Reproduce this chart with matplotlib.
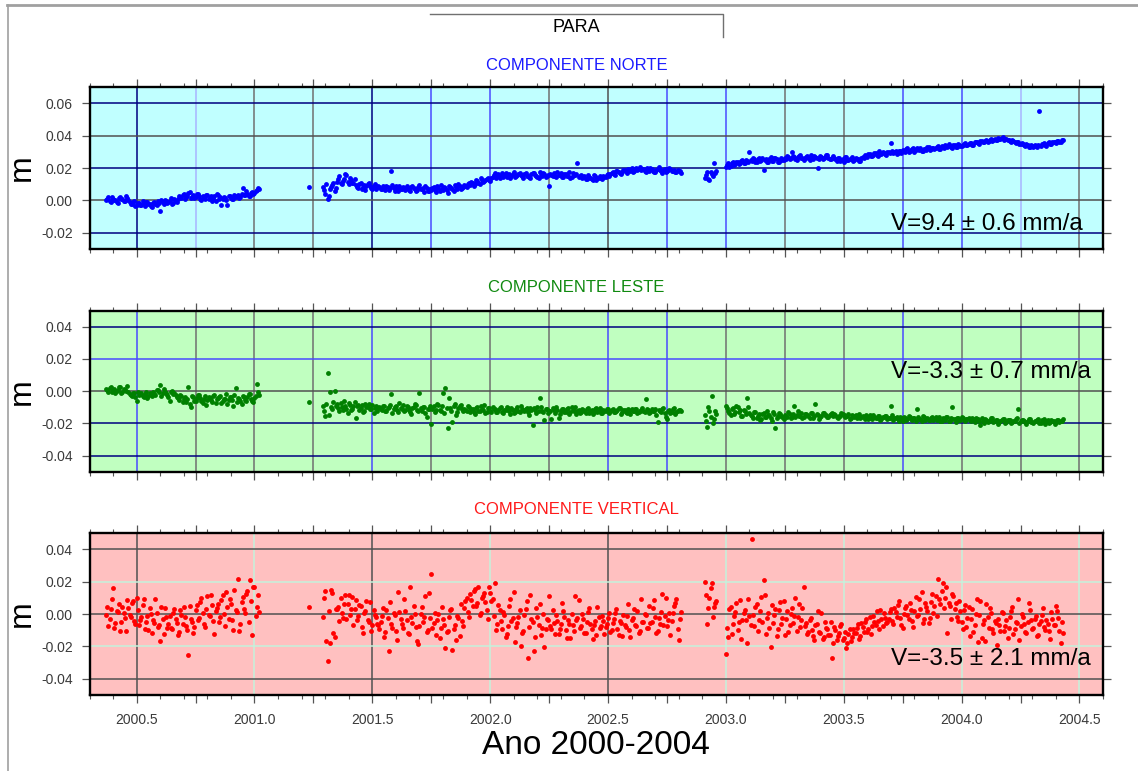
import numpy as np
import matplotlib
matplotlib.use('Agg')
import matplotlib.pyplot as plt
from matplotlib.ticker import MultipleLocator, FuncFormatter
from matplotlib.lines import Line2D

plt.rcParams['font.family'] = ['Liberation Sans', 'DejaVu Sans']
plt.rcParams['axes.unicode_minus'] = False

# ---------------- DATA (epochs in decimal years, displacements in mm) ----------------
t_a = [2000.37, 2000.38, 2000.39, 2000.40, 2000.41, 2000.42, 2000.43, 2000.44, 2000.45, 2000.46,
       2000.47, 2000.48, 2000.49, 2000.50, 2000.51, 2000.52, 2000.53, 2000.54, 2000.55, 2000.56,
       2000.57, 2000.58, 2000.59, 2000.60, 2000.61, 2000.62, 2000.63, 2000.64, 2000.65, 2000.66,
       2000.67, 2000.68, 2000.69, 2000.70, 2000.71, 2000.72, 2000.73, 2000.74, 2000.75, 2000.76,
       2000.77, 2000.78, 2000.79, 2000.80, 2000.81, 2000.82, 2000.83, 2000.84, 2000.85, 2000.86,
       2000.87, 2000.88, 2000.89, 2000.90, 2000.91, 2000.92, 2000.93, 2000.94, 2000.95, 2000.96,
       2000.97, 2000.98, 2000.99, 2001.00, 2001.01, 2001.02]
t_single = [2001.23]
t_b = [2001.29, 2001.30, 2001.31, 2001.32, 2001.33, 2001.34, 2001.35, 2001.36, 2001.37, 2001.38,
       2001.39, 2001.40, 2001.41, 2001.42, 2001.43, 2001.44, 2001.45, 2001.46, 2001.47, 2001.48,
       2001.49, 2001.50, 2001.51, 2001.52, 2001.53, 2001.54, 2001.55, 2001.56, 2001.57, 2001.58,
       2001.59, 2001.60, 2001.61, 2001.62, 2001.63, 2001.64, 2001.65, 2001.66, 2001.67, 2001.68,
       2001.69, 2001.70, 2001.71, 2001.72, 2001.73, 2001.74, 2001.75, 2001.76, 2001.77, 2001.78,
       2001.79, 2001.80, 2001.81, 2001.82, 2001.83, 2001.84, 2001.85, 2001.86, 2001.87, 2001.88,
       2001.89, 2001.90, 2001.91, 2001.92, 2001.93, 2001.94, 2001.95, 2001.96, 2001.97, 2001.98,
       2001.99, 2002.00, 2002.01, 2002.02, 2002.03, 2002.04, 2002.05, 2002.06, 2002.07, 2002.08,
       2002.09, 2002.10, 2002.11, 2002.12, 2002.13, 2002.14, 2002.15, 2002.16, 2002.17, 2002.18,
       2002.19, 2002.20, 2002.21, 2002.22, 2002.23, 2002.24, 2002.25, 2002.26, 2002.27, 2002.28,
       2002.29, 2002.30, 2002.31, 2002.32, 2002.33, 2002.34, 2002.35, 2002.36, 2002.37, 2002.38,
       2002.39, 2002.40, 2002.41, 2002.42, 2002.43, 2002.44, 2002.45, 2002.46, 2002.47, 2002.48,
       2002.49, 2002.50, 2002.51, 2002.52, 2002.53, 2002.54, 2002.55, 2002.56, 2002.57, 2002.58,
       2002.59, 2002.60, 2002.61, 2002.62, 2002.63, 2002.64, 2002.65, 2002.66, 2002.67, 2002.68,
       2002.69, 2002.70, 2002.71, 2002.72, 2002.73, 2002.74, 2002.75, 2002.76, 2002.77, 2002.78,
       2002.79, 2002.80, 2002.81]
t_c = [2002.91, 2002.92, 2002.93, 2002.94, 2002.95, 2002.96]
t_d = [2003.00, 2003.01, 2003.02, 2003.03, 2003.04, 2003.05, 2003.06, 2003.07, 2003.08, 2003.09,
       2003.10, 2003.11, 2003.12, 2003.13, 2003.14, 2003.15, 2003.16, 2003.17, 2003.18, 2003.19,
       2003.20, 2003.21, 2003.22, 2003.23, 2003.24, 2003.25, 2003.26, 2003.27, 2003.28, 2003.29,
       2003.30, 2003.31, 2003.32, 2003.33, 2003.34, 2003.35, 2003.36, 2003.37, 2003.38, 2003.39,
       2003.40, 2003.41, 2003.42, 2003.43, 2003.44, 2003.45, 2003.46, 2003.47, 2003.48, 2003.49,
       2003.50, 2003.51, 2003.52, 2003.53, 2003.54, 2003.55, 2003.56, 2003.57, 2003.58, 2003.59,
       2003.60, 2003.61, 2003.62, 2003.63, 2003.64, 2003.65, 2003.66, 2003.67, 2003.68, 2003.69,
       2003.70, 2003.71, 2003.72, 2003.73, 2003.74, 2003.75, 2003.76, 2003.77, 2003.78, 2003.79,
       2003.80, 2003.81, 2003.82, 2003.83, 2003.84, 2003.85, 2003.86, 2003.87, 2003.88, 2003.89,
       2003.90, 2003.91, 2003.92, 2003.93, 2003.94, 2003.95, 2003.96, 2003.97, 2003.98, 2003.99,
       2004.00, 2004.01, 2004.02, 2004.03, 2004.04, 2004.05, 2004.06, 2004.07, 2004.08, 2004.09,
       2004.10, 2004.11, 2004.12, 2004.13, 2004.14, 2004.15, 2004.16, 2004.17, 2004.18, 2004.19,
       2004.20, 2004.21, 2004.22, 2004.23, 2004.24, 2004.25, 2004.26, 2004.27, 2004.28, 2004.29,
       2004.30, 2004.31, 2004.32, 2004.33, 2004.34, 2004.35, 2004.36, 2004.37, 2004.38, 2004.39,
       2004.40, 2004.41, 2004.42, 2004.43]
# intermediate epochs (between the above)
t_a2 = [2000.375, 2000.385, 2000.395, 2000.405, 2000.415, 2000.425, 2000.435, 2000.445, 2000.455, 2000.465,
        2000.475, 2000.485, 2000.495, 2000.505, 2000.515, 2000.525, 2000.535, 2000.545, 2000.555, 2000.565,
        2000.575, 2000.585, 2000.595, 2000.605, 2000.615, 2000.625, 2000.635, 2000.645, 2000.655, 2000.665,
        2000.675, 2000.685, 2000.695, 2000.705, 2000.715, 2000.725, 2000.735, 2000.745, 2000.755, 2000.765,
        2000.775, 2000.785, 2000.795, 2000.805, 2000.815, 2000.825, 2000.835, 2000.845, 2000.855, 2000.865,
        2000.875, 2000.885, 2000.895, 2000.905, 2000.915, 2000.925, 2000.935, 2000.945, 2000.955, 2000.965,
        2000.975, 2000.985, 2000.995, 2001.005, 2001.015]
t_b2 = [2001.295, 2001.305, 2001.315, 2001.325, 2001.335, 2001.345, 2001.355, 2001.365, 2001.375, 2001.385,
        2001.395, 2001.405, 2001.415, 2001.425, 2001.435, 2001.445, 2001.455, 2001.465, 2001.475, 2001.485,
        2001.495, 2001.505, 2001.515, 2001.525, 2001.535, 2001.545, 2001.555, 2001.565, 2001.575, 2001.585,
        2001.595, 2001.605, 2001.615, 2001.625, 2001.635, 2001.645, 2001.655, 2001.665, 2001.675, 2001.685,
        2001.695, 2001.705, 2001.715, 2001.725, 2001.735, 2001.745, 2001.755, 2001.765, 2001.775, 2001.785,
        2001.795, 2001.805, 2001.815, 2001.825, 2001.835, 2001.845, 2001.855, 2001.865, 2001.875, 2001.885,
        2001.895, 2001.905, 2001.915, 2001.925, 2001.935, 2001.945, 2001.955, 2001.965, 2001.975, 2001.985,
        2001.995, 2002.005, 2002.015, 2002.025, 2002.035, 2002.045, 2002.055, 2002.065, 2002.075, 2002.085,
        2002.095, 2002.105, 2002.115, 2002.125, 2002.135, 2002.145, 2002.155, 2002.165, 2002.175, 2002.185,
        2002.195, 2002.205, 2002.215, 2002.225, 2002.235, 2002.245, 2002.255, 2002.265, 2002.275, 2002.285,
        2002.295, 2002.305, 2002.315, 2002.325, 2002.335, 2002.345, 2002.355, 2002.365, 2002.375, 2002.385,
        2002.395, 2002.405, 2002.415, 2002.425, 2002.435, 2002.445, 2002.455, 2002.465, 2002.475, 2002.485,
        2002.495, 2002.505, 2002.515, 2002.525, 2002.535, 2002.545, 2002.555, 2002.565, 2002.575, 2002.585,
        2002.595, 2002.605, 2002.615, 2002.625, 2002.635, 2002.645, 2002.655, 2002.665, 2002.675, 2002.685,
        2002.695, 2002.705, 2002.715, 2002.725, 2002.735, 2002.745, 2002.755, 2002.765, 2002.775, 2002.785,
        2002.795, 2002.805]
t_c2 = [2002.915, 2002.925, 2002.935, 2002.945, 2002.955]
t_d2 = [2003.005, 2003.015, 2003.025, 2003.035, 2003.045, 2003.055, 2003.065, 2003.075, 2003.085, 2003.095,
        2003.105, 2003.115, 2003.125, 2003.135, 2003.145, 2003.155, 2003.165, 2003.175, 2003.185, 2003.195,
        2003.205, 2003.215, 2003.225, 2003.235, 2003.245, 2003.255, 2003.265, 2003.275, 2003.285, 2003.295,
        2003.305, 2003.315, 2003.325, 2003.335, 2003.345, 2003.355, 2003.365, 2003.375, 2003.385, 2003.395,
        2003.405, 2003.415, 2003.425, 2003.435, 2003.445, 2003.455, 2003.465, 2003.475, 2003.485, 2003.495,
        2003.505, 2003.515, 2003.525, 2003.535, 2003.545, 2003.555, 2003.565, 2003.575, 2003.585, 2003.595,
        2003.605, 2003.615, 2003.625, 2003.635, 2003.645, 2003.655, 2003.665, 2003.675, 2003.685, 2003.695,
        2003.705, 2003.715, 2003.725, 2003.735, 2003.745, 2003.755, 2003.765, 2003.775, 2003.785, 2003.795,
        2003.805, 2003.815, 2003.825, 2003.835, 2003.845, 2003.855, 2003.865, 2003.875, 2003.885, 2003.895,
        2003.905, 2003.915, 2003.925, 2003.935, 2003.945, 2003.955, 2003.965, 2003.975, 2003.985, 2003.995,
        2004.005, 2004.015, 2004.025, 2004.035, 2004.045, 2004.055, 2004.065, 2004.075, 2004.085, 2004.095,
        2004.105, 2004.115, 2004.125, 2004.135, 2004.145, 2004.155, 2004.165, 2004.175, 2004.185, 2004.195,
        2004.205, 2004.215, 2004.225, 2004.235, 2004.245, 2004.255, 2004.265, 2004.275, 2004.285, 2004.295,
        2004.305, 2004.315, 2004.325, 2004.335, 2004.345, 2004.355, 2004.365, 2004.375, 2004.385, 2004.395,
        2004.405, 2004.415, 2004.425]

# North component (mm)
north_a = [0.2, 1.8, -0.9, 1.1, 0.4, -1.5, 2.0, 0.8, -0.3, 1.2,
           -1.0, -2.3, -0.6, -2.8, -1.5, -3.1, -1.9, -0.8, -2.6, -3.5, -1.7, -2.2,
           -0.4, -6.8, -1.3, 0.2, -1.8, -0.7, -2.1, 0.5, -0.9,
           2.5, 1.2, 3.8, 2.0, 4.6, 1.5, 3.1, 2.2, 4.0, 1.0,
           2.8, 0.9, 3.3, 1.7, -0.5, 2.4, 3.6, 1.1, -2.8, 2.0, 0.3, 2.9, 1.4, 0.6,
           2.2, 3.5, 1.8, 7.8, 3.0, 4.2, 2.6, 5.0, 4.4, 6.2, 6.8]
north_single = [8.0]
north_b = [8.5, 4.0, 0.5, 7.2, 9.5, 5.6,
           11.5, 14.8, 10.2, 13.0, 15.5, 9.8, 12.6, 11.0,
           9.2, 7.5, 10.6, 8.1, 6.4, 9.9, 8.6, 7.2, 10.3, 8.0,
           8.4, 6.9, 7.7, 9.1, 6.2, 18.0, 7.5, 8.8, 5.9, 7.1, 8.3, 6.6, 7.9, 5.5, 8.7, 7.0, 6.3, 9.4, 6.8, 5.2, 7.6, 6.0,
           6.5, 8.1, 5.4, 7.3, 9.6, 6.2, 7.8, 4.6, 8.5, 7.0, 9.2, 6.7, 8.9, 7.4,
           9.5, 8.2, 10.4, 11.6, 9.0, 12.3, 10.8, 13.5, 11.2, 12.8, 14.0, 12.1,
           14.6, 16.8, 15.2, 13.9, 17.1, 15.8, 14.3, 16.4, 15.0, 17.6, 14.8, 16.0,
           15.5, 13.6, 16.9, 15.3, 14.1, 16.6, 15.9, 14.5, 17.3, 15.1, 16.2, 14.9,
           9.0, 15.6, 16.9, 14.2, 15.8, 17.0, 14.6, 16.3, 15.1, 13.8, 16.7, 15.4, 22.8, 14.9,
           13.8, 15.2, 12.9, 14.6, 13.3, 15.7, 12.4, 14.1, 13.6, 15.0, 14.4, 16.2,
           16.5, 17.4, 15.8, 18.1, 16.9, 17.7, 19.0, 17.2, 18.5, 19.8, 18.0, 20.3, 19.1, 18.6,
           19.4, 17.8, 18.9, 20.1, 18.2, 17.5, 19.6, 18.7, 17.1, 19.2, 18.4, 20.0, 17.9, 18.8, 17.4, 18.1, 16.8]
north_c = [14.0, 17.5, 12.8, 16.2, 22.9, 18.0]
north_d = [20.8, 22.9, 21.5, 23.6, 22.2, 24.0, 22.8, 25.1, 23.4, 24.6,
           30.0, 24.3, 25.8, 23.7, 26.2, 24.9, 19.0, 25.5, 23.9, 26.6, 24.4, 25.9, 23.5, 25.2, 24.7,
           26.1, 27.3, 25.4, 30.0, 26.8, 25.0, 27.7, 26.3, 24.9, 27.1, 26.0, 28.0, 25.6, 26.9, 20.0,
           27.4, 25.8, 26.6, 27.9, 25.3, 26.4,
           25.9, 24.6, 26.4, 25.1, 23.9, 26.8, 24.8, 25.6, 24.2, 26.1, 25.3, 24.5,
           27.0, 28.3, 26.8, 28.9, 27.6, 29.2, 28.1, 30.4, 28.7, 29.6, 27.9, 30.1, 35.4, 29.3, 30.6, 29.0, 30.3,
           31.0, 30.2, 32.1, 30.8, 31.6, 29.9, 32.4, 31.2, 30.5, 32.0, 31.4, 33.0, 31.8, 32.6,
           32.3, 33.5, 31.9, 33.1, 34.2, 32.8, 33.7, 32.5, 34.5, 33.2, 34.0, 33.6, 35.0, 34.3,
           34.8, 35.6, 34.2, 36.0, 35.3, 36.5, 35.9, 37.0, 36.3, 37.6, 36.8, 38.2, 37.1, 37.9, 38.6, 37.4, 38.0,
           37.2, 36.0, 36.8, 35.4, 35.9, 34.6, 35.1, 33.7, 34.4, 32.8, 33.5,
           34.0, 33.1, 55.2, 34.6, 35.3, 33.9, 35.8, 34.9, 36.2, 35.5, 36.7, 36.0, 37.2]
north_a2 = [1.0, -0.6, 2.3, 0.1, -1.2, 1.6, 0.7, -0.4, 2.6, 0.3,
            -2.0, -0.9, -3.4, -1.6, -2.7, -0.5, -3.8, -1.2, -2.4, -4.3, -1.1, -2.9,
            -1.6, 0.4, -2.4, -0.2, -1.0, 1.2, -1.9, -0.6, 0.8,
            1.8, 3.4, 0.6, 2.9, 4.9, 2.1, 1.3, 3.7, 2.5, 0.4,
            1.9, 3.0, 0.5, 2.6, 1.3, -0.2, 3.2, 2.0, 0.8, 1.7, -3.2, 2.4, 1.0, 3.1,
            2.7, 1.5, 4.0, 3.2, 5.5, 2.9, 4.8, 3.6, 5.6, 7.3]
north_b2 = [6.5, 9.8, 2.5, 8.0, 11.0, 7.4,
            13.2, 10.8, 12.0, 16.2, 11.4, 13.8, 10.5, 12.9,
            8.4, 10.1, 7.0, 9.5, 8.8, 11.0, 7.8, 9.1, 6.9, 8.6,
            7.2, 8.9, 6.4, 8.0, 7.4, 9.6, 5.8, 7.9, 8.6, 6.7, 7.3, 9.0, 6.1, 8.2, 7.5, 5.7, 8.4, 6.9,
            7.7, 8.8, 5.9, 7.0,
            7.7, 6.1, 8.6, 5.8, 7.0, 8.3, 6.6, 9.1, 7.4, 6.0, 8.0, 9.8, 7.2, 8.5,
            8.8, 10.0, 9.3, 11.0, 10.1, 11.9, 9.8, 12.6, 11.8, 13.2, 12.4, 13.7,
            15.7, 14.0, 16.3, 15.1, 14.7, 16.9, 15.4, 13.8, 16.1, 14.4, 15.9, 17.2, 14.9, 16.5, 15.0,
            14.2, 16.0, 17.0, 15.3, 13.9, 15.8, 16.7, 14.6, 15.5,
            16.1, 14.8, 15.3, 17.3, 15.9, 14.4, 16.2, 15.0, 17.4, 14.7, 15.6, 16.4, 14.2, 15.8,
            14.7, 13.1, 15.5, 14.0, 12.7, 14.9, 13.5, 15.3, 12.9, 14.3, 15.8, 15.1,
            17.0, 16.1, 18.4, 17.6, 16.4, 18.8, 17.9, 19.3, 18.2, 17.3, 19.5, 18.8, 20.6, 19.4,
            18.3, 19.8, 18.0, 19.1, 17.7, 18.6, 20.4, 18.1, 19.0, 17.6, 18.9, 19.5, 18.2, 17.3, 18.5, 17.9]
north_c2 = [15.5, 13.2, 17.8, 15.0, 16.8]
north_d2 = [21.9, 20.6, 23.1, 21.8, 23.9, 22.6, 24.3, 23.0, 24.8, 23.7,
            24.8, 26.0, 23.9, 25.3, 24.6, 26.4, 25.0, 23.6, 25.7, 24.2, 26.1, 25.4, 24.0, 26.3, 25.1,
            25.7, 26.9, 26.2, 27.6, 25.5, 26.7, 28.2, 25.9, 26.5, 27.3, 25.2, 26.8, 27.5, 26.1, 25.6,
            27.0, 26.4, 28.1, 26.0, 25.8, 27.2,
            25.3, 26.2, 24.4, 25.8, 26.6, 24.9, 25.5, 26.9, 24.7, 25.7, 24.1, 26.3,
            26.5, 27.7, 28.5, 27.2, 28.0, 29.5, 27.4, 28.8, 29.9, 28.4, 30.0, 29.1, 30.6, 29.8, 28.9,
            30.8, 29.6,
            30.7, 31.8, 30.1, 31.3, 32.6, 30.9, 31.5, 32.2, 30.6, 31.9, 32.9, 31.1, 32.3, 31.7,
            33.0, 32.0, 33.8, 32.6, 33.4, 34.6, 33.0, 34.1, 33.3, 34.8, 33.9, 34.4, 35.2, 34.0,
            35.2, 34.5, 35.9, 36.4, 35.0, 36.8, 36.1, 37.3, 36.6, 37.8, 37.2, 37.5, 38.4, 37.8, 38.9,
            38.2, 37.6,
            36.5, 37.4, 35.8, 36.3, 34.9, 35.5, 34.0, 34.8, 33.3, 34.1, 32.9,
            33.4, 34.3, 33.6, 35.0, 34.2, 35.6, 35.0, 36.4, 35.8, 36.9, 36.3, 37.6]

# East component (mm)
east_a = [1.5, -0.2, 2.4, 0.3, -1.1, 1.0, 2.8, -0.6, 0.5, 3.0,
          -1.8, -3.0, -0.9, -6.0, -2.2, -1.4, -3.3, -0.5, -2.7, -1.9,
          -0.8, -2.1, 0.6, 4.0, -1.3, -0.2, -2.5, -6.2, 0.4, -1.0,
          -3.5, -5.2, -2.8, -4.6, -6.4, 2.6, -10.0, -3.9, -5.8, -2.4, -4.3, -7.1, -3.1, -5.5,
          -4.0, -6.6, -2.2, -5.1, -3.6, -7.3, -4.8, -1.9, -5.7, -3.3, -9.0, 1.8, -4.4, -6.0,
          -2.9, -5.3, -3.8, -1.5, -6.2, -4.1, 4.3, -2.6]
east_single = [-6.6]
east_b = [-9.5, -15.2, 11.3, -0.2, -11.0, 0.0,
          -8.1, -12.4, -9.6, -6.2, -10.8, -7.5, -11.6, -9.0, -16.5, -8.4, -10.2, -12.9, -7.8, -9.9,
          -11.3, -8.7, -10.5, -12.0,
          -9.8, -11.7, -8.9, -12.3, -10.1, -2.0, -11.2, -9.4, -12.8, -10.6, -8.5, -11.9, -9.7, -13.0,
          -10.3, -8.2, -11.4, -1.2, -12.5, -9.9, -16.0, -10.8,
          -20.4, -9.5, -11.8, -8.6, -12.1, -0.9, 1.7, -23.0, -10.2, -19.0, -8.0, -12.7, -9.4, -11.1,
          -10.9, -12.6, -9.8, -11.3, -13.2, -10.4, -12.0, -9.2, -11.8, -13.6, -10.7, -12.4, -9.6,
          -11.1, -13.0, -10.2, -12.8, -11.5, -9.9, -12.2, -10.6, -13.4, -11.0, -12.1, -9.5, -11.7,
          -11.2, -12.9, -10.4, -20.8, -11.8, -9.7, -4.0, -12.5, -17.9, -10.9, -12.2, -17.2, -11.5,
          -9.9, -16.8, -12.6,
          -11.3, -12.8, -10.5, -13.1, -11.9, -10.1, -12.6, -13.5, -11.0, -12.2, -10.8, -13.3, -11.6,
          -12.9, -10.3, -12.0, -13.7, -11.4, -12.5, -10.9,
          -12.3, -11.0, -13.2, -11.8, -10.6, -12.7, -11.4, -13.5, -12.0, -10.9, -12.6, -11.3, -13.0,
          -11.9, -12.4, -5.0, -11.6, -13.1, -12.2, -10.8, -19.2, -12.5, -11.1, -13.3, -17.0, -11.7,
          -12.8, -10.2, -13.0, -11.5, -12.1]
east_c = [-15.0, -22.0, -12.5, -3.0, -17.5, -14.0]
east_d = [-9.0, -12.5, -14.8, -10.6, -13.2, -9.8, -11.9, -15.1, -12.3,
          -4.5, -13.8, -15.6, -12.9, -16.4, -14.2, -17.1, -13.5, -15.9, -14.7, -16.8, -13.1, -22.8,
          -15.3, -14.0, -16.2,
          -14.6, -15.8, -13.9, -16.3, -9.0, -14.9, -15.5, -13.4, -16.0, -14.3, -15.2, -13.7, -16.6,
          -8.2, -14.8, -15.9, -13.6, -14.5, -16.2, -15.0, -13.8, -14.4, -16.1, -15.4, -13.5, -14.7,
          -15.7, -14.1, -16.4, -15.1, -14.6,
          -15.6, -16.8, -15.2, -17.0, -16.1, -14.9, -17.4, -15.8, -16.5, -15.3, -17.2, -16.0, -15.5,
          -16.9, -9.0,
          -17.8, -16.4, -17.1, -15.9, -18.2, -16.7, -17.5, -16.0, -17.9, -16.6, -11.0, -17.3, -18.4,
          -16.2, -17.0, -18.0, -16.5, -17.6, -15.8, -17.2, -18.3, -16.9, -17.7, -16.1, -18.5, -10.0,
          -17.4, -16.8, -17.9, -16.3, -18.1, -17.0, -16.6, -18.6, -17.3, -16.9,
          -17.5, -21.0, -18.4, -17.2, -19.0, -18.1, -16.9, -18.7, -17.6, -19.3, -18.0, -17.3, -18.9,
          -17.8, -19.5, -18.3, -17.0, -11.0, -18.6, -17.7, -19.1, -18.2, -17.4, -19.4, -18.5, -17.9,
          -19.8, -18.0, -17.1, -18.8, -19.6, -17.6, -18.4, -19.2, -17.8, -18.6, -17.3]
east_a2 = [0.8, 2.0, -0.5, 1.6, 0.2, 2.5, -1.0, 1.3, 0.0, -0.8,
           -2.5, -1.2, -3.8, -0.4, -2.0, -3.1, -1.6, -4.4, -1.0, -2.8,
           -1.5, 0.9, -0.6, -2.8, 1.4, -1.1, -3.6, -0.3, -1.9, -2.3,
           -4.1, -2.2, -6.9, -3.4, -5.0, -7.8, -3.0, -5.9, -4.4, -2.6, -6.3, -4.8, -8.5, -3.7,
           -5.4, -3.1, -7.6, -4.2, -2.7, -6.0, -4.9, -8.1, -3.5, -5.6, -2.4, -6.7, -4.6, -7.9,
           -3.4, -5.8, -2.0, -4.6, -6.9, -3.2, -0.8]
east_b2 = [-12.0, -8.0, -14.5, -10.0, -6.5, -9.2,
           -10.4, -7.2, -11.9, -9.3, -13.5, -8.6, -10.9, -6.9,
           -9.1, -11.5, -8.3, -12.6, -10.0, -7.9, -11.1, -13.8, -9.5, -10.7,
           -11.0, -9.1, -12.6, -10.4, -8.4, -13.3, -9.9, -11.7, -7.6, -10.9, -12.2, -9.3, -11.5,
           -14.1, -10.1, -8.8, -12.4, -10.7, -9.6, -13.6, -11.2, -8.9,
           -10.9, -12.9, -7.8, -11.4, -9.2, -13.8, -10.3, -4.5, -12.3, -9.0, -14.8, -10.7, -8.5, -12.0,
           -11.6, -9.4, -12.9, -10.8, -13.9, -9.9, -12.3, -11.0, -8.8, -13.2, -10.5, -12.7,
           -10.8, -12.9, -11.4, -9.7, -13.5, -11.9, -10.3, -14.2, -11.6, -12.7, -9.9, -13.0, -11.1,
           -12.4, -10.6, -14.6, -11.9, -10.2, -13.3, -12.1, -9.8, -12.8, -11.3, -13.8,
           -12.2, -10.4, -13.6, -11.7, -14.4, -10.9, -12.9, -11.2, -13.9, -10.1, -12.5, -14.0, -11.5, -12.8,
           -11.8, -13.4, -10.7, -12.6, -14.1, -11.2, -12.9, -10.4, -13.6, -12.0, -11.1, -13.8,
           -11.5, -13.1, -12.4, -10.3, -13.9, -11.9, -12.7, -10.8, -14.2, -12.1, -11.0, -13.5, -12.6, -10.6,
           -12.9, -11.2, -13.8, -10.9, -12.3, -14.5, -11.6, -13.0, -10.4, -15.8, -12.0, -13.7, -11.3,
           -14.2, -12.6, -11.8]
east_c2 = [-18.5, -10.0, -16.0, -20.0, -12.0]
east_d2 = [-10.5, -13.6, -11.2, -14.2, -9.4, -12.8, -15.5, -11.6, -13.9, -10.1,
           -14.5, -16.7, -13.2, -15.4, -17.8, -14.0, -16.1, -12.6, -15.0, -18.5, -14.4, -16.4, -13.7,
           -15.7, -17.3,
           -15.3, -13.1, -16.8, -14.2, -15.9, -12.4, -15.1, -16.9, -13.9, -14.6, -16.5, -13.3, -15.6,
           -14.1, -17.0, -15.2, -13.6, -14.9, -16.3, -14.4, -15.7,
           -14.8, -16.6, -15.1, -13.9, -16.0, -15.5, -17.2, -14.6, -15.8, -16.4, -14.2, -15.9,
           -16.3, -15.0, -17.3, -16.6, -14.8, -16.9, -15.6, -17.8, -16.2, -15.3, -17.0, -16.5, -14.5,
           -16.8, -15.9, -18.4, -16.4,
           -16.0, -17.9, -15.5, -17.2, -16.6, -18.6, -16.3, -17.4, -15.2, -17.7, -16.9, -18.0, -16.1, -17.5,
           -17.6, -16.2, -18.3, -17.0, -15.8, -18.8, -16.7, -17.5, -19.1, -16.4, -17.8, -16.9, -18.6, -17.2,
           -18.1, -16.8, -19.2, -17.4, -18.6, -16.5, -19.8, -17.9, -18.4, -16.9, -19.0, -17.6, -20.3,
           -18.2, -17.1, -19.5, -18.0,
           -17.7, -19.3, -18.5, -16.6, -19.9, -17.8, -18.7, -20.2, -17.2, -18.9, -19.5,
           -18.2, -17.4, -19.6, -18.8, -20.1, -17.7, -19.0, -18.3, -20.4, -17.9, -19.3, -18.5]

# Vertical component (mm)
up_a = [-0.5, -7.5, 3.2, 16.0, -5.8, 1.1, -10.4, 4.6, -2.3, 8.9, -0.9, 6.7, -4.1, 10.0,
        -6.8, -1.7, 9.6, -4.9, -10.2, 0.3, -3.6, 9.5, -7.9, -16.5, -2.8, 3.9, -8.4,
        -1.2, -9.6, 3.0, -5.5, -11.3, -0.4, 4.3, -7.2, -25.5, -3.1, -11.8,
        2.6, -4.0, 7.7, 0.8, -8.3, 11.2, -1.5, 5.4, -12.5,
        3.6, -5.2, 8.8, 0.2, 13.9, -3.4, 6.1, -9.8, 2.3, 21.5, -6.5, 10.8, 0.9, 14.3, 21.0, -13.2,
        17.0, 4.5, 1.0]
up_single = [4.5]
up_b = [-2.0, 14.5, -29.0, -18.0, 13.0, -14.0,
        2.8, -4.5, 0.6, 6.2, -2.9, 11.5, 3.4, -6.8, 8.9, -1.3, 5.1, -11.6, 1.7, -3.8, 7.4, -7.0,
        -0.5, -5.9,
        -9.2, -1.0, -14.3, 2.4, -23.2, -6.1, 0.8, -10.7, 13.4, -3.3, -8.5, 1.6, -12.0, 16.5, -5.4,
        -0.2, -17.0, -7.6, 4.3, -2.1, -11.4, 13.0,
        25.0, -5.5, -12.8, 0.3, -8.9, -3.0, -21.0, -10.4, 2.7, -22.0, -6.6, -1.4, -13.5, -4.2,
        3.5, 10.2, -1.8, 8.6, 14.0, 5.1, 16.5, 0.4, 11.3, 7.2, -2.9, 12.8, 9.0, 19.0,
        -6.0, 2.5, -9.3, -0.8, -12.1, 4.7, -4.4, 13.5, -7.8, -1.6, -20.0, -10.5, 3.3, -27.0, 11.5,
        -5.2, -14.0, -2.0, 6.0, -8.7, -20.5,
        -3.2, 11.0, -9.1, -5.6, -0.9, -12.4, -6.3, 1.8, -10.0, -4.0, -14.6, -7.1, 11.0, -2.5, -8.8,
        -0.3, -11.7, -5.0, 3.6, -9.4, -6.8, -13.0, -1.9, -7.5, -4.6,
        -8.0, -2.2, -11.3, -5.7, 0.4, -9.5, -4.1, -13.6, -6.6, -1.5, -10.1, -3.5, 2.8, -7.2, -12.0,
        9.0, -4.8, -0.6, -8.9, -5.3, 3.9, -2.0, -10.7, -6.0, 12.5, -1.2, -7.7, 0.9, -4.4, 5.0, 9.5,
        -16.0, 1.5]
up_c = [20.0, -6.0, 10.0, 19.0, 4.5, 8.0]
up_d = [-25.0, -14.0, 4.5, -6.3, 1.2, -9.7, 8.8, -3.5, 2.6, -18.0, -1.1, 46.7, -7.4, 5.9, -4.0,
        10.5, 21.0, -12.2, 0.5, -20.5, -5.8, 3.1, -9.0, 7.2, -2.4, -13.3, 1.8, -6.7, 4.0, -1.0,
        -10.8, 6.5, -3.9,
        17.0, -5.4, -10.9, -2.7, -13.6, -7.0, 2.1, -11.8, -15.4, -4.8, -9.3, -13.1, -27.5, -8.0,
        -16.2, -11.5, -6.3, -14.7, -21.0, -12.4, -17.0, -9.6,
        -11.5, -6.4, -13.8, -8.2, -4.7, -10.9, -2.0, -7.6, -5.1, 1.7, -9.3, -3.4, 0.8, -5.8,
        -3.1, 2.9, -6.2, 1.0, 5.6, -2.4, -8.5, 3.8, -0.7, 6.9, -4.6, 1.9, -1.5, 9.2, 13.5, -2.8,
        4.4, -5.3, 7.5, 0.6, 11.0,
        21.5, 6.2, 19.0, 10.1, -12.0, 5.0, 12.4, 3.3,
        -1.9, 7.9, -5.0, 2.4, -8.2, 4.6, -3.3, -11.0, 0.2, -17.5, 8.0, -6.5, -17.0, -2.1, 3.5,
        -9.6, -4.2,
        -19.0, -6.8, 1.1, -10.3, -3.7, -8.6, 1.8, -12.2, -4.9, 9.0, -7.4, -1.6, -11.0, -5.2, 2.7,
        -9.1, -3.0, -13.4, -6.1, -0.4, -8.3, -4.0, -10.6, 1.5, -6.8, 5.0, -2.6, -18.0, -12.0]
up_a2 = [4.2, -3.0, 9.1, -8.6, 1.9, 6.0, -4.7, 0.5, -10.8, 3.7, -1.6, 7.9, -6.1, 2.2,
         -3.9, 5.8, -9.0, -1.2, 3.5, -11.6, -5.3, 0.9, -7.0, 4.6, -12.6, -2.1, -6.3,
         -8.9, 0.6, -3.2, -12.8, 2.3, -6.0, -1.9, -10.1, 5.1, -4.7, -8.0,
         5.6, -2.6, 9.7, -6.0, 3.1, -0.4, 12.0, -4.5, 1.6,
         6.5, -1.9, 11.8, -7.5, 4.6, 9.3, -3.6, 15.0, 1.4, -10.8, 7.6, 3.2, 12.5, -4.8, 8.1, 16.5,
         -1.0, 11.9]
up_b2 = [10.0, -17.0, 2.0, 15.0, -12.0, 3.0,
         4.5, 9.8, -2.6, 12.0, 6.4, -0.8, 10.6, 3.0,
         -3.5, 5.4, -8.1, 0.9, 8.0, -5.0, -10.6, 2.2, -1.8, -6.9,
         -5.0, 3.6, -11.2, -2.4, 7.5, -8.7, -0.9, -15.8, 1.1, -6.4, 9.0, -3.9, -12.5, -1.6, 5.0,
         -8.0, -18.5, 0.2, -4.8, 11.0, -9.9, -2.7,
         -8.4, 0.6, -3.9, -14.8, 4.1, -6.9, -11.0, -1.8, 3.0, -9.5, -16.0, -2.6, 6.0, -7.3,
         8.0, 1.3, 12.6, 4.8, 15.5, 6.9, -0.6, 10.0, 13.2, 2.7, 17.0, 7.8,
         -1.5, -10.2, 5.6, -4.6, 1.0, -14.0, -7.3, 9.2, -2.3, -17.5, -5.8, 2.6, -11.6, -0.4, 7.8,
         -8.3, -3.1, -23.0, 3.9, -6.6, -12.8, 0.1, -9.1, -4.0,
         -7.2, 2.4, -12.7, -4.3, -9.6, 6.8, -2.0, -14.9, -5.9, 0.3, -10.8, -3.5, 8.6, -7.7,
         -2.8, -11.9, 1.2, -6.5, -15.2, -4.1, 4.5, -8.6, -1.4, -12.3, -6.0, 0.6,
         -9.8, -3.0, 3.2, -12.8, -5.4, -0.8, -8.3, 6.1, -14.0, -2.4, -7.0, 1.9, -10.6, -4.7,
         -0.2, -8.6, 4.8, -5.1, 8.6, -11.5, -2.7, 1.3, -7.0, 10.2, -4.0, -13.0, 0.7, 6.8, -9.2, -3.3]
up_c2 = [12.0, 4.0, 16.0, -2.0, 7.0]
up_d2 = [-8.4, 3.1, -12.6, -1.5, 6.6, -5.2, -15.5, 0.8, -3.8, 9.6, -7.1, -0.4, 4.2, -10.6, 1.9,
         -4.9, 12.0, -2.7, -8.9, 5.3, -0.9, -13.8, 2.6, -6.0, 7.9, -3.2, -11.1, 0.3, -5.6, 9.9,
         -1.7, -8.0, 3.6,
         -7.4, -12.6, -3.9, -9.8, -16.4, -6.1, -11.0, 0.5, -14.1, -8.6, -12.9, -5.0, -17.8, -10.2,
         -13.7, -7.3, -15.9, -11.4, -18.2, -9.0, -14.4, -12.0,
         -8.8, -15.2, -5.6, -11.3, -3.4, -9.0, -12.7, -1.1, -6.8, -4.2, 2.6, -7.5, -2.2, -4.9,
         1.4, -4.5, 4.0, -1.9, 8.3, -6.8, 0.2, 5.1, -3.3, 2.5, -8.0, 10.6, -0.8, 3.3, -5.4, 7.0,
         1.6, -2.6, 12.2, 4.7, -1.2,
         9.4, 14.0, 3.6, 16.6, 7.0, -3.0, 11.1, 6.6,
         -4.3, 1.7, -9.5, 5.3, -2.6, -13.4, 3.0, -6.8, 9.5, -0.7, -15.0, -3.9, 6.2, -8.8, 0.9,
         -11.8, -5.5,
         -3.2, -10.8, 0.6, -7.7, -14.6, -2.1, 4.4, -9.2, -5.8, -16.0, 0.0, -6.5, -11.9, 6.8, -3.5,
         -8.5, -1.0, -13.0, -4.6, 3.8, -9.8, -6.0, -15.5, -2.8, -7.1, 1.7, -10.3, -5.1]

titles = ["COMPONENTE NORTE", "COMPONENTE LESTE", "COMPONENTE VERTICAL"]
rates = ["V=9.4 \u00b1 0.6 mm/a", "V=-3.3 \u00b1 0.7 mm/a", "V=-3.5 \u00b1 2.1 mm/a"]
station = "PARA"
xlabel = "Ano 2000-2004"

# ---------------- FIGURE ----------------
W, H = 1138, 771
fig = plt.figure(figsize=(W / 100, H / 100), dpi=100)

def fx(px):
    return px / W

def fy(py):
    return 1 - py / H

def pair(ts, ys):
    ts, ys = list(ts), list(ys)
    n = min(len(ts), len(ys))
    return ts[:n], ys[:n]

def build(segments):
    tt, yy = [], []
    for ts, ys in segments:
        a, b = pair(ts, ys)
        tt += a
        yy += b
    return np.array(tt), np.array(yy) / 1000.0

series = [
    build([(t_a, north_a), (t_single, north_single), (t_b, north_b), (t_c, north_c), (t_d, north_d),
           (t_a2, north_a2), (t_b2, north_b2), (t_c2, north_c2), (t_d2, north_d2)]),
    build([(t_a, east_a), (t_single, east_single), (t_b, east_b), (t_c, east_c), (t_d, east_d),
           (t_a2, east_a2), (t_b2, east_b2), (t_c2, east_c2), (t_d2, east_d2)]),
    build([(t_a, up_a), (t_single, up_single), (t_b, up_b), (t_c, up_c), (t_d, up_d),
           (t_a2, up_a2), (t_b2, up_b2), (t_c2, up_c2), (t_d2, up_d2)]),
]

NAVY, BLUE, LBLUE, GRAY, DGRAY, MINT = '#000080', '#4a4aff', '#a8b4ff', '#707070', '#505050', '#c4f2dc'
panels = [
    dict(top=87.3, bot=248.7, ylim=(-0.03, 0.07), bg='#c0ffff', col='#0000ff', tcol='#1a1aff',
         title_y=65, text_y=-0.0187,
         vgrid=[(2000.5, NAVY), (2000.75, LBLUE), (2001.0, GRAY), (2001.25, GRAY), (2001.5, NAVY),
                (2001.75, BLUE), (2002.0, BLUE), (2002.25, GRAY), (2002.5, DGRAY), (2002.75, BLUE),
                (2003.0, BLUE), (2003.25, GRAY), (2003.5, GRAY), (2003.75, BLUE), (2004.0, BLUE),
                (2004.25, LBLUE), (2004.5, GRAY)],
         hgrid=[(0.06, NAVY), (0.04, DGRAY), (0.02, NAVY), (0.0, DGRAY), (-0.02, NAVY)]),
    dict(top=310.7, bot=471.7, ylim=(-0.05, 0.05), bg='#c0ffc0', col='#008000', tcol='#108a10',
         title_y=287, text_y=0.0085,
         vgrid=[(2000.5, BLUE), (2000.75, GRAY), (2001.0, GRAY), (2001.25, GRAY), (2001.5, BLUE),
                (2001.75, GRAY), (2002.0, GRAY), (2002.25, GRAY), (2002.5, BLUE), (2002.75, BLUE),
                (2003.0, GRAY), (2003.25, GRAY), (2003.5, GRAY), (2003.75, BLUE), (2004.0, GRAY),
                (2004.25, GRAY), (2004.5, GRAY)],
         hgrid=[(0.04, NAVY), (0.02, BLUE), (0.0, DGRAY), (-0.02, NAVY), (-0.04, NAVY)]),
    dict(top=533.3, bot=694.7, ylim=(-0.05, 0.05), bg='#ffc0c0', col='#ff0000', tcol='#ff1a1a',
         title_y=510, text_y=-0.0318,
         vgrid=[(2000.5, DGRAY), (2001.0, MINT), (2001.5, DGRAY), (2002.0, MINT), (2002.5, DGRAY),
                (2003.0, MINT), (2003.5, MINT), (2004.0, MINT), (2004.5, MINT)],
         hgrid=[(0.04, DGRAY), (0.02, MINT), (0.0, DGRAY), (-0.02, MINT), (-0.04, DGRAY)]),
]

L, R = 89.5, 1103.0
TICKC = '#555555'

def xfmt(v, pos):
    if abs(v * 2 - round(v * 2)) < 1e-6:
        return f"{v:.1f}"
    return ""

for i, p in enumerate(panels):
    ax = fig.add_axes([fx(L), fy(p['bot']), fx(R - L), (p['bot'] - p['top']) / H])
    ax.set_facecolor(p['bg'])
    ax.set_xlim(2000.3, 2004.6)
    ax.set_ylim(*p['ylim'])
    for xv, c in p['vgrid']:
        ax.axvline(xv, color=c, lw=1.1, zorder=1)
    for yv, c in p['hgrid']:
        ax.axhline(yv, color=c, lw=1.1, zorder=1)
    tt, yy = series[i]
    ax.plot(tt, yy, 'o', ms=3.5, color=p['col'], mec='none', zorder=3)
    ax.text(2003.70, p['text_y'], rates[i], fontsize=17.5, color='black', ha='left',
            va='baseline', zorder=4)

    ax.xaxis.set_major_locator(MultipleLocator(0.25))
    ax.xaxis.set_minor_locator(MultipleLocator(0.1))
    ax.yaxis.set_major_locator(MultipleLocator(0.02))
    ax.tick_params(axis='x', which='major', direction='out', length=6, width=0.9, color=TICKC,
                   top=True, bottom=True, pad=7, labelsize=10, labelcolor='#3a3a3a')
    ax.tick_params(axis='x', which='minor', direction='out', length=3, width=0.8, color=TICKC,
                   top=True, bottom=True)
    ax.tick_params(axis='y', which='major', direction='out', length=6, width=0.9, color=TICKC,
                   left=True, right=True, pad=6, labelsize=10, labelcolor='#3a3a3a')
    ax.yaxis.set_major_formatter(FuncFormatter(lambda v, pos: f"{v:.2f}" if abs(v) > 1e-9 else "0.00"))
    if i == 2:
        ax.xaxis.set_major_formatter(FuncFormatter(xfmt))
    else:
        ax.set_xticklabels([])
    for s in ax.spines.values():
        s.set_linewidth(1.7)
        s.set_color('black')
        s.set_zorder(5)

    fig.text(fx(22), fy((p['top'] + p['bot']) / 2), 'm', fontsize=23, rotation=90,
             ha='center', va='center', color='black')
    fig.text(fx(576.5), fy(p['title_y']), titles[i], fontsize=12, color=p['tcol'],
             ha='center', va='center')

fig.text(fx(596), fy(745), xlabel, fontsize=24, ha='center', va='center', color='black')
fig.text(fx(576.5), fy(27), station, fontsize=13, ha='center', va='center', color='black')

# page frame and station box
fig.add_artist(Line2D([fx(7), fx(1138)], [fy(5), fy(5)], color='#a0a0a0', lw=2))
fig.add_artist(Line2D([fx(8), fx(8)], [fy(5), fy(771)], color='#a0a0a0', lw=1.2))
fig.add_artist(Line2D([fx(430), fx(723), fx(723)], [fy(14), fy(14), fy(37)], color='#707070', lw=1))

fig.savefig('out.png', dpi=100)
